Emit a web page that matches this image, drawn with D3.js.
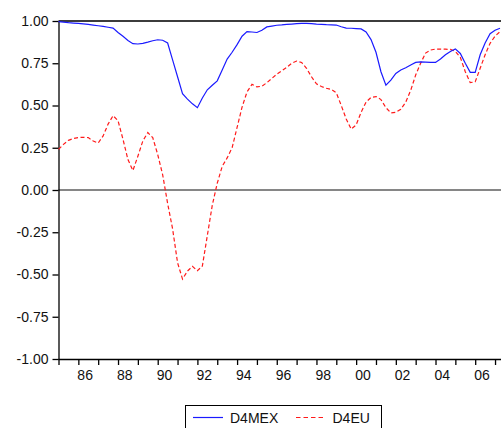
<!DOCTYPE html>
<html>
<head>
<meta charset="utf-8">
<script src="https://cdn.jsdelivr.net/npm/d3@7"></script>
<style>
  html, body { margin: 0; padding: 0; background: #fff; }
  svg { display: block; font-family: "Liberation Sans", Arial, sans-serif; }
</style>
</head>
<body>
<svg id="chart" width="502" height="428"></svg>
<script>
// Quarterly observations starting 1985Q1
const startYear = 1985;

const d4mex = [
  0.996, 0.993, 0.990, 0.988, 0.986, 0.983, 0.980, 0.976, 0.972, 0.968,
  0.963, 0.958, 0.932, 0.910, 0.885, 0.866, 0.864, 0.868, 0.875, 0.883,
  0.889, 0.886, 0.870, 0.770, 0.670, 0.570, 0.538, 0.510, 0.487, 0.544,
  0.593, 0.620, 0.646, 0.710, 0.775, 0.815, 0.860, 0.910, 0.937, 0.935,
  0.932, 0.945, 0.965, 0.970, 0.975, 0.977, 0.980, 0.982, 0.984, 0.986,
  0.986, 0.985, 0.982, 0.980, 0.978, 0.977, 0.976, 0.966, 0.958, 0.957,
  0.955, 0.953, 0.935, 0.890, 0.815, 0.700, 0.620, 0.650, 0.690, 0.710,
  0.723, 0.740, 0.755, 0.758, 0.757, 0.755, 0.755, 0.775, 0.800, 0.820,
  0.835, 0.808, 0.750, 0.696, 0.696, 0.800, 0.870, 0.925, 0.945, 0.957
];

const d4eu = [
  0.240, 0.270, 0.294, 0.305, 0.310, 0.312, 0.310, 0.290, 0.278, 0.320,
  0.390, 0.440, 0.410, 0.300, 0.180, 0.115, 0.200, 0.290, 0.340, 0.310,
  0.210, 0.090, -0.080, -0.230, -0.430, -0.527, -0.480, -0.452, -0.478, -0.450,
  -0.270, -0.090, 0.040, 0.140, 0.190, 0.250, 0.370, 0.490, 0.580, 0.625,
  0.610, 0.614, 0.635, 0.660, 0.685, 0.705, 0.725, 0.750, 0.763, 0.755,
  0.720, 0.670, 0.628, 0.612, 0.602, 0.595, 0.575, 0.500, 0.420, 0.360,
  0.385, 0.460, 0.520, 0.548, 0.553, 0.535, 0.487, 0.456, 0.460, 0.478,
  0.520, 0.590, 0.680, 0.750, 0.810, 0.828, 0.834, 0.834, 0.833, 0.832,
  0.820, 0.785, 0.700, 0.635, 0.640, 0.720, 0.800, 0.868, 0.910, 0.937
];

const yTicks = [-1.00, -0.75, -0.50, -0.25, 0.00, 0.25, 0.50, 0.75, 1.00];
const xTickYears = d3.range(1985, 2008);          // a tick at every year
const xLabelYears = d3.range(1986, 2008, 2);     // labels on even years

const seriesNames = ["D4MEX", "D4EU"];

const svg = d3.select("#chart");

const periods = d4mex.map((_, i) => startYear + i / 4);

const x = d3.scaleLinear()
  .domain([startYear, periods[periods.length - 1]])
  .range([58.5, 500]);

const y = d3.scaleLinear()
  .domain([-1, 1])
  .range([359, 21]);

// reference lines at 1 and 0
svg.append("line")
  .attr("x1", 58.5).attr("x2", 501)
  .attr("y1", y(1)).attr("y2", y(1))
  .attr("stroke", "#3c3c3c").attr("stroke-width", 2);

svg.append("line")
  .attr("x1", 58.5).attr("x2", 501)
  .attr("y1", y(0)).attr("y2", y(0))
  .attr("stroke", "#5e5e5e").attr("stroke-width", 1.6);

// left axis
const yAxis = d3.axisLeft(y)
  .tickValues(yTicks)
  .tickSize(6)
  .tickSizeOuter(0)
  .tickPadding(4)
  .tickFormat(d => d.toFixed(2));

const gy = svg.append("g")
  .attr("transform", "translate(58.5,0)")
  .call(yAxis);
gy.select(".domain").attr("stroke", "#000").attr("stroke-width", 1.3);
gy.selectAll(".tick line").attr("stroke", "#000").attr("stroke-width", 1.3);
gy.selectAll(".tick text")
  .attr("font-size", 14)
  .attr("font-family", "'Liberation Sans', Arial, sans-serif")
  .attr("fill", "#111");

// bottom axis
const xAxis = d3.axisBottom(x)
  .tickValues(xTickYears)
  .tickSize(6)
  .tickSizeOuter(0)
  .tickFormat(d => xLabelYears.includes(d) ? d3.format("02d")(d % 100) : "");

const gx = svg.append("g")
  .attr("transform", `translate(0,${y(-1)})`)
  .call(xAxis);
gx.select(".domain").attr("d", `M58.5,0.5H501`).attr("stroke", "#000").attr("stroke-width", 1.3);
gx.selectAll(".tick line").attr("stroke", "#000").attr("stroke-width", 1.3);
gx.selectAll(".tick text")
  .attr("font-size", 14)
  .attr("font-family", "'Liberation Sans', Arial, sans-serif")
  .attr("fill", "#111")
  .attr("text-anchor", "start")
  .attr("x", -1.5)
  .attr("y", 11);

// series lines
const line = d3.line()
  .x((d, i) => x(periods[i]))
  .y(d => y(d));

svg.append("path")
  .datum(d4eu)
  .attr("d", line)
  .attr("fill", "none")
  .attr("stroke", "#ff1a1a")
  .attr("stroke-width", 1.2)
  .attr("stroke-dasharray", "4,2.5");

svg.append("path")
  .datum(d4mex)
  .attr("d", line)
  .attr("fill", "none")
  .attr("stroke", "#1a1aff")
  .attr("stroke-width", 1.2);

// legend
const lg = svg.append("g");
lg.append("rect")
  .attr("x", 185.5).attr("y", 405.5)
  .attr("width", 196).attr("height", 30)
  .attr("fill", "#fff").attr("stroke", "#000").attr("stroke-width", 1);

const legendItems = [
  { name: seriesNames[0], color: "#1a1aff", dash: null, x0: 193, tx: 230 },
  { name: seriesNames[1], color: "#ff1a1a", dash: "4.5,3", x0: 296, tx: 332.5 }
];
legendItems.forEach(it => {
  lg.append("line")
    .attr("x1", it.x0).attr("x2", it.x0 + 30)
    .attr("y1", 417.5).attr("y2", 417.5)
    .attr("stroke", it.color).attr("stroke-width", 1.2)
    .attr("stroke-dasharray", it.dash);
  lg.append("text")
    .attr("x", it.tx).attr("y", 422.7)
    .attr("font-size", 14)
    .attr("fill", "#111")
    .text(it.name);
});
</script>
</body>
</html>
